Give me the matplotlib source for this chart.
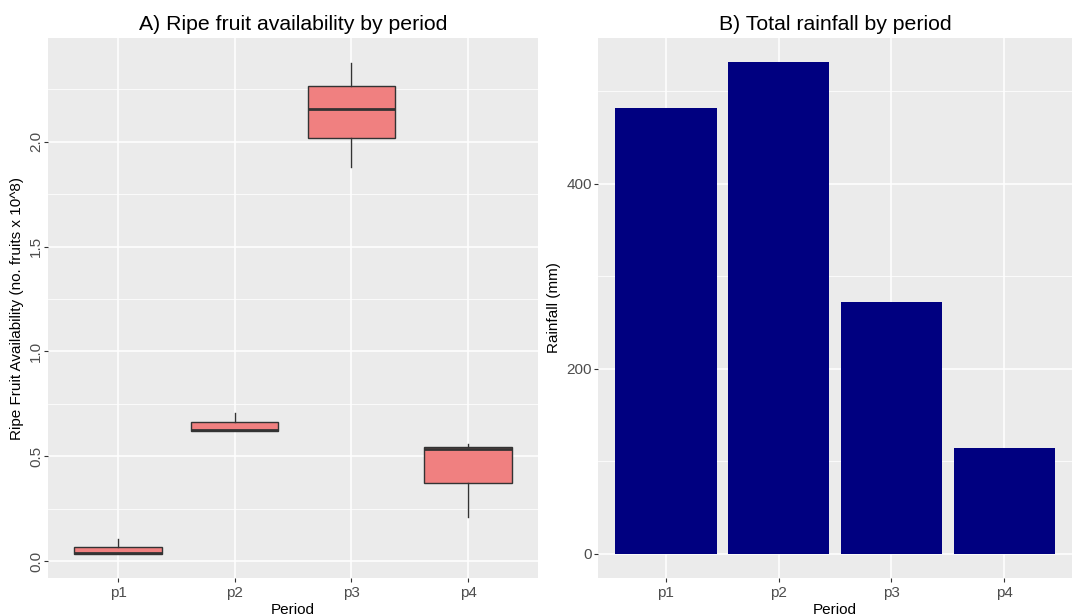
import matplotlib.pyplot as plt
from matplotlib.ticker import MultipleLocator

plt.rcParams['font.family'] = ['Liberation Sans', 'DejaVu Sans']

periods = ['p1', 'p2', 'p3', 'p4']

# fruit availability summary (x 10^8 fruits)
fruit_whislo = [0.032, 0.620, 1.878, 0.211]
fruit_q1 = [0.032, 0.620, 2.017, 0.371]
fruit_med = [0.036, 0.624, 2.157, 0.536]
fruit_q3 = [0.068, 0.665, 2.268, 0.544]
fruit_whishi = [0.105, 0.705, 2.377, 0.557]

# total rainfall (mm)
rainfall = [481.6, 531.5, 271.7, 114.3]

BG = '#EBEBEB'
TXT = '#4D4D4D'


def style_axes(ax):
    ax.set_facecolor(BG)
    for s in ax.spines.values():
        s.set_visible(False)
    ax.grid(which='major', color='white', linewidth=1.1)
    ax.grid(which='minor', axis='y', color='white', linewidth=0.55)
    ax.set_axisbelow(True)
    ax.tick_params(which='major', length=3, width=0.8, color='#333333',
                   labelcolor=TXT, labelsize=11, pad=3)
    ax.tick_params(axis='y', which='major', pad=1.5)
    ax.tick_params(which='minor', length=0)


fig = plt.figure(figsize=(10.74, 6.16), dpi=100)
ax1 = fig.add_axes([48 / 1074, 38 / 616, 490 / 1074, 540 / 616])
ax2 = fig.add_axes([598 / 1074, 38 / 616, 474 / 1074, 540 / 616])

# A) boxplots
stats = []
for i in range(len(periods)):
    stats.append(dict(med=fruit_med[i], q1=fruit_q1[i], q3=fruit_q3[i],
                      whislo=fruit_whislo[i], whishi=fruit_whishi[i],
                      fliers=[], label=periods[i]))
ax1.bxp(stats, positions=range(1, 5), widths=0.75, patch_artist=True,
        showcaps=False, showfliers=False,
        boxprops=dict(facecolor='#F08080', edgecolor='#333333', linewidth=1.0),
        medianprops=dict(color='#333333', linewidth=2.0),
        whiskerprops=dict(color='#333333', linewidth=1.0))
style_axes(ax1)
ax1.tick_params(axis='y', which='major', pad=0.5)
ax1.set_xlim(0.4, 4.6)
ax1.set_ylim(-0.081, 2.495)
ax1.set_xticks(range(1, 5))
ax1.set_xticklabels(periods)
ax1.yaxis.set_major_locator(MultipleLocator(0.5))
ax1.yaxis.set_minor_locator(MultipleLocator(0.25))
ax1.set_yticks([0, 0.5, 1.0, 1.5, 2.0])
ax1.set_yticklabels(['0.0', '0.5', '1.0', '1.5', '2.0'], rotation=90, va='center')
ax1.set_xlabel('Period', fontsize=11, labelpad=2)
ax1.set_ylabel('Ripe Fruit Availability (no. fruits x 10^8)', fontsize=11, labelpad=4)
ax1.set_title('A) Ripe fruit availability by period', fontsize=15.3, pad=6)

# B) bars
ax2.bar(range(1, 5), rainfall, width=0.9, color='#000080')
style_axes(ax2)
ax2.set_xlim(0.4, 4.6)
ax2.set_ylim(-26.5, 557.7)
ax2.set_xticks(range(1, 5))
ax2.set_xticklabels(periods)
ax2.yaxis.set_major_locator(MultipleLocator(200))
ax2.yaxis.set_minor_locator(MultipleLocator(100))
ax2.set_xlabel('Period', fontsize=11, labelpad=2)
ax2.set_ylabel('Rainfall (mm)', fontsize=11, labelpad=4)
ax2.set_title('B) Total rainfall by period', fontsize=15.3, pad=6)

fig.savefig('out.png', dpi=100, facecolor='white')
